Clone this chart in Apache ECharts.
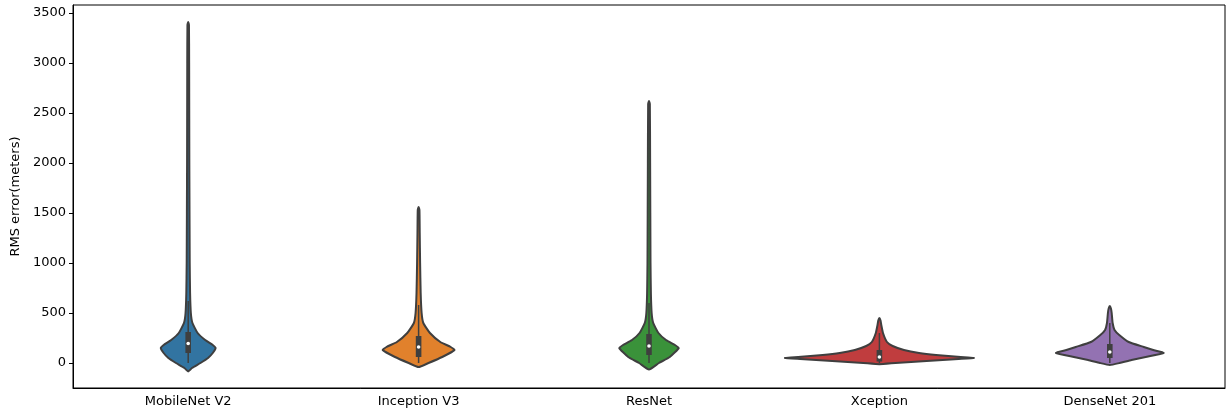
<!DOCTYPE html>
<html>
<head>
<meta charset="utf-8">
<script src="https://cdn.jsdelivr.net/npm/echarts@6/dist/echarts.min.js"></script>
<style>
  html, body { margin: 0; padding: 0; background: #fff; }
  #chart { width: 1226px; height: 415px; }
</style>
</head>
<body>
<div id="chart"></div>
<script>
// categories and colours
var categories = ['MobileNet V2', 'Inception V3', 'ResNet', 'Xception', 'DenseNet 201'];
var colors = ['#3274a1', '#e1812c', '#3a923a', '#c03d3e', '#9372b2'];
var yTicks = [0, 500, 1000, 1500, 2000, 2500, 3000, 3500];

// density outline of each violin: [RMS error, relative density]
var mobileNetDensity = [[-85, 0], [-50, 0.04], [0, 0.13], [50, 0.21], [100, 0.26], [150, 0.29], [180, 0.26], [230, 0.18], [300, 0.1], [400, 0.045], [500, 0.028], [700, 0.02], [1000, 0.016], [2000, 0.012], [3000, 0.01], [3380, 0.008], [3410, 0]];
var inceptionDensity = [[-40, 0], [0, 0.105], [60, 0.25], [130, 0.38], [160, 0.34], [210, 0.23], [300, 0.12], [400, 0.05], [500, 0.032], [700, 0.022], [1000, 0.016], [1300, 0.012], [1530, 0.009], [1560, 0]];
var resNetDensity = [[-65, 0], [0, 0.105], [60, 0.22], [150, 0.315], [180, 0.275], [230, 0.18], [300, 0.1], [400, 0.045], [500, 0.028], [700, 0.02], [1000, 0.016], [2000, 0.012], [2590, 0.009], [2620, 0]];
var xceptionDensity = [[-12, 0], [0, 0.17], [20, 0.5], [40, 0.84], [50, 1.0], [60, 0.86], [80, 0.6], [100, 0.42], [130, 0.26], [170, 0.14], [210, 0.08], [300, 0.038], [380, 0.02], [425, 0.012], [450, 0]];
var denseNetDensity = [[-20, 0], [0, 0.105], [30, 0.23], [60, 0.38], [100, 0.57], [130, 0.46], [160, 0.36], [210, 0.2], [280, 0.1], [330, 0.05], [400, 0.03], [500, 0.02], [545, 0.012], [570, 0]];

// inner box: [whisker low, Q1, median, Q3, whisker high]
var boxStats = [
  [0, 100, 195, 310, 620],
  [0, 60, 160, 270, 580],
  [0, 80, 170, 290, 600],
  [0, 15, 60, 130, 300],
  [0, 50, 110, 190, 400]
];

var densities = [mobileNetDensity, inceptionDensity, resNetDensity, xceptionDensity, denseNetDensity];
var edgeColor = '#3f3f3f';

function renderViolin(params, api) {
  var idx = api.value(0);
  var prof = densities[idx];
  var band = api.size([1, 0])[0];
  var scale = band * 0.41; // widest violin
  var right = [], left = [];
  for (var i = 0; i < prof.length; i++) {
    var p = api.coord([idx, prof[i][0]]);
    right.push([p[0] + prof[i][1] * scale, p[1]]);
    if (i > 0 && i < prof.length - 1) left.unshift([p[0] - prof[i][1] * scale, p[1]]);
  }
  var pts = right.concat(left);
  var b = boxStats[idx];
  var lo = api.coord([idx, b[0]]);
  var q1 = api.coord([idx, b[1]]);
  var med = api.coord([idx, b[2]]);
  var q3 = api.coord([idx, b[3]]);
  var hi = api.coord([idx, b[4]]);
  var cx = lo[0];
  return {
    type: 'group',
    children: [
      {
        type: 'polygon',
        shape: { points: pts, smooth: 0.15 },
        style: { fill: colors[idx], stroke: edgeColor, lineWidth: 2 }
      },
      {
        type: 'line',
        shape: { x1: cx, y1: lo[1], x2: cx, y2: hi[1] },
        style: { stroke: edgeColor, lineWidth: 1.5 }
      },
      {
        type: 'rect',
        shape: { x: cx - 2.8, y: q3[1], width: 5.6, height: q1[1] - q3[1] },
        style: { fill: edgeColor }
      },
      {
        type: 'circle',
        shape: { cx: cx, cy: med[1], r: 1.8 },
        style: { fill: '#fff' }
      }
    ]
  };
}

var chart = echarts.init(document.getElementById('chart'));
var option = {
  animation: false,
  textStyle: { fontFamily: 'DejaVu Sans' },
  grid: {
    left: 73, right: 1, top: 5, bottom: 27,
    outerBoundsMode: 'none', containLabel: false,
    show: true, borderColor: '#000', borderWidth: 1
  },
  xAxis: {
    type: 'category',
    data: categories,
    boundaryGap: true,
    axisLine: { onZero: false, lineStyle: { color: '#000' } },
    axisTick: { alignWithLabel: true, length: 4, lineStyle: { color: '#000' } },
    axisLabel: { color: '#000', fontSize: 13, margin: 7 },
    splitLine: { show: false }
  },
  yAxis: {
    type: 'value',
    min: -250,
    max: 3580,
    name: 'RMS error(meters)',
    nameLocation: 'middle',
    nameGap: 50,
    nameTextStyle: { color: '#000', fontSize: 13 },
    axisLine: { show: true, onZero: false, lineStyle: { color: '#000' } },
    axisTick: { show: true, length: 4, customValues: yTicks, lineStyle: { color: '#000' } },
    axisLabel: {
      color: '#000', fontSize: 13, margin: 7, customValues: yTicks,
      formatter: function (v) { return String(v); }
    },
    splitLine: { show: false }
  },
  series: [{
    type: 'custom',
    renderItem: renderViolin,
    encode: { x: 0 },
    data: categories.map(function (c, i) { return [i]; }),
    clip: true
  }]
};
chart.setOption(option);
</script>
</body>
</html>
